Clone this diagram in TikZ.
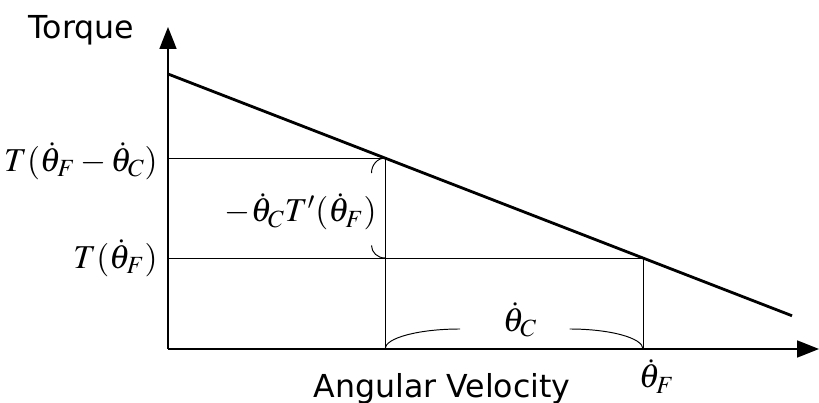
\documentclass[tikz,border=0pt]{standalone}
\usepackage{mathptmx}
\usepackage[no-math]{fontspec}
\newfontfamily\labelfont{DejaVu Sans}
\usetikzlibrary{arrows.meta}

\begin{document}
\begin{tikzpicture}[
  axis/.style={line width=1pt,-{Triangle[length=0.44cm,width=0.34cm]}},
  thinline/.style={line width=0.55pt},
  curve/.style={line width=1.6pt},
  eqn/.style={font=\fontsize{19}{22}\selectfont,inner sep=0pt},
  word/.style={font=\labelfont\fontsize{18}{21}\selectfont,inner sep=0pt}]
\useasboundingbox (-3.36,-1.08) rectangle (13.02,6.98);

%% points
\coordinate (O) at (0,0);
\coordinate (ytip) at (0,6.44);
\coordinate (xtip) at (13.02,0);
\coordinate (P0) at (0,5.5);
\coordinate (P1) at (12.48,0.665);
\coordinate (A) at (4.34,3.819);
\coordinate (B) at (9.5,1.82);
\coordinate (A0) at (0,3.819);
\coordinate (B0) at (0,1.82);
\coordinate (Ax) at (4.34,0);
\coordinate (Bx) at (9.5,0);
\coordinate (AB) at (4.34,1.82);

%% axes
\draw[axis] (O) -- (ytip);
\draw[axis] (O) -- (xtip);

%% torque line
\draw[curve] (P0) -- (P1);

%% guides
\draw[thinline] (A0) -- (A) -- (Ax);
\draw[thinline] (B0) -- (B) -- (Bx);

%% brackets
\draw[thinline] (A) arc[start angle=90,end angle=180,x radius=0.27,y radius=0.3];
\draw[thinline] (AB) arc[start angle=270,end angle=180,x radius=0.27,y radius=0.25];
\draw[thinline] (Ax) arc[start angle=180,end angle=90,x radius=1.5,y radius=0.4];
\draw[thinline] (Bx) arc[start angle=0,end angle=90,x radius=1.47,y radius=0.4];

%% labels
\node[word,anchor=base] (torque) at (-1.73,6.21) {Torque};
\node[word,anchor=base] (omega) at (5.48,-0.96) {Angular Velocity};
\node[eqn,anchor=base east] (tfc) at (-0.2,3.55) {$T(\dot{\theta}_F-\dot{\theta}_C)$};
\node[eqn,anchor=base east] (tf) at (-0.2,1.61) {$T(\dot{\theta}_F)$};
\node[eqn,anchor=base east] (slope) at (4.18,2.54) {$-\dot{\theta}_C T'(\dot{\theta}_F)$};
\node[eqn,anchor=base] (thc) at (7.04,0.35) {$\dot{\theta}_C$};
\node[eqn,anchor=base] (thf) at (9.77,-0.78) {$\dot{\theta}_F$};
\end{tikzpicture}
\end{document}
